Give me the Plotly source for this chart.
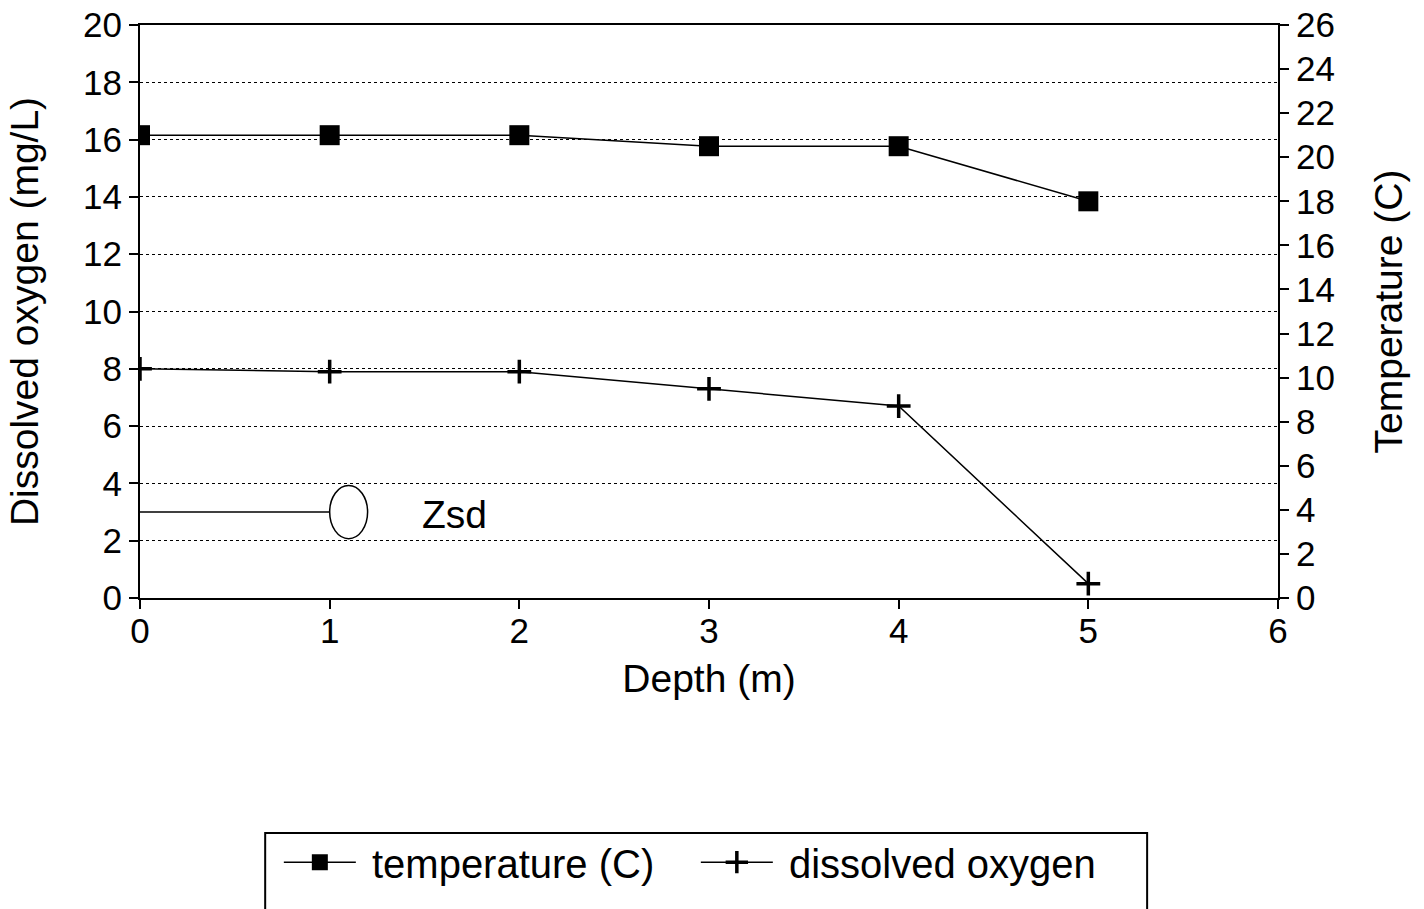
import plotly.graph_objects as go

depth = [0, 1, 2, 3, 4, 5]
temperature = [21.0, 21.0, 21.0, 20.5, 20.5, 18.0]
dissolved_oxygen = [8.0, 7.9, 7.9, 7.3, 6.7, 0.5]
zsd_depth = 1.1
zsd_level = 3.0
left_ticks = list(range(0, 21, 2))
right_ticks = list(range(0, 27, 2))
depth_ticks = list(range(0, 7))

FONT = "Liberation Sans, Arial, sans-serif"
BLACK = "black"

fig = go.Figure()
fig.add_trace(go.Scatter(
    x=depth, y=temperature, yaxis="y2", name="\u00a0temperature (C)",
    mode="lines+markers", line=dict(color=BLACK, width=1.5),
    marker=dict(symbol="square", size=20, color=BLACK)))
fig.add_trace(go.Scatter(
    x=depth, y=dissolved_oxygen, name="\u00a0dissolved oxygen",
    mode="lines+markers", line=dict(color=BLACK, width=1.5),
    marker=dict(symbol="cross-thin", size=17, color=BLACK,
                line=dict(color=BLACK, width=3.5))))
# Secchi depth line
fig.add_trace(go.Scatter(
    x=[0, zsd_depth - 0.1], y=[zsd_level, zsd_level], mode="lines",
    line=dict(color=BLACK, width=1.5), showlegend=False, hoverinfo="skip"))

fig.add_shape(type="circle", xref="x", yref="y",
              x0=zsd_depth - 0.1, x1=zsd_depth + 0.1,
              y0=zsd_level - 0.93, y1=zsd_level + 0.93,
              line=dict(color=BLACK, width=1.5), fillcolor="white")
fig.add_annotation(x=zsd_depth + 0.56, y=zsd_level - 0.1, xref="x", yref="y",
                   text="Zsd", showarrow=False, font=dict(size=39, color=BLACK))

# legend frame (cut off at bottom of page like the reference)
fig.add_shape(type="rect", xref="paper", yref="paper",
              x0=0.110, x1=0.885, y0=-0.62, y1=-0.410,
              line=dict(color=BLACK, width=2))

axis_common = dict(
    showline=True, linecolor=BLACK, linewidth=2, automargin=False,
    ticks="outside", ticklen=9, tickwidth=2, tickcolor=BLACK,
    zeroline=False, tickfont=dict(size=35, color=BLACK, family=FONT),
)

fig.update_layout(
    width=1424, height=909,
    margin=dict(l=140, r=146, t=25, b=311),
    paper_bgcolor="white", plot_bgcolor="white",
    font=dict(family=FONT, color=BLACK, size=35),
    xaxis=dict(range=[0, 6], tickvals=depth_ticks, mirror=True, showgrid=False,
               ticklabelstandoff=-8,
               title=dict(text="Depth (m)", font=dict(size=39), standoff=16),
               **axis_common),
    yaxis=dict(range=[0, 20], tickvals=left_ticks, showgrid=True,
               gridcolor=BLACK, gridwidth=1, griddash="dot",
               title=dict(text="Dissolved oxygen (mg/L)", font=dict(size=39), standoff=32),
               **axis_common),
    yaxis2=dict(range=[0, 26], tickvals=right_ticks, overlaying="y", side="right",
                showgrid=False,
                title=dict(text="Temperature (C)", font=dict(size=39), standoff=41),
                **axis_common),
    showlegend=True,
    legend=dict(orientation="h", x=0.122, xanchor="left", y=-0.461, yanchor="middle",
                font=dict(size=40, color=BLACK), bgcolor="rgba(0,0,0,0)",
                borderwidth=0, itemwidth=72, entrywidth=330, entrywidthmode="pixels",
                traceorder="normal"),
)

fig.write_html("out.html")
